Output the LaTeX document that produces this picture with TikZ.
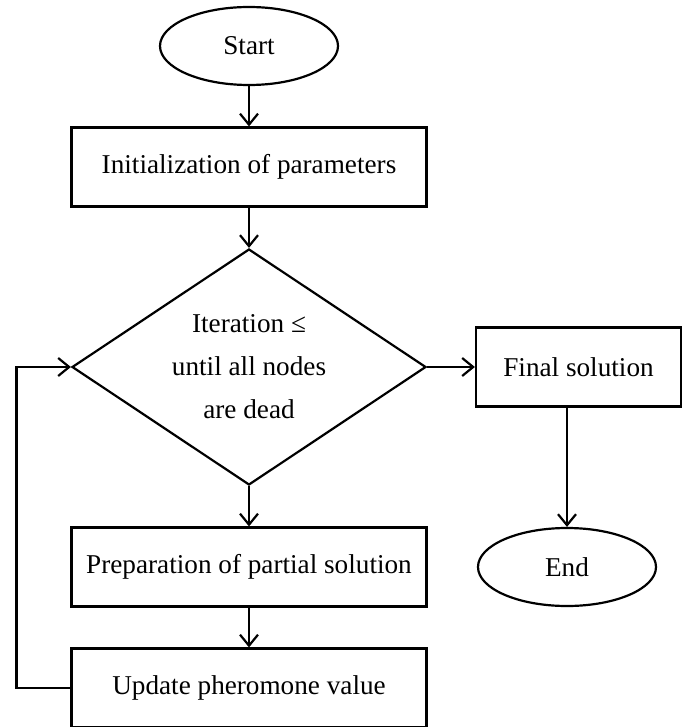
\documentclass[tikz,border=0pt]{standalone}
\usepackage{fontspec}
\setmainfont{Liberation Serif}
\usetikzlibrary{positioning,arrows.meta,shapes.geometric}

\begin{document}
\begin{tikzpicture}[
    x=0.5pt, y=-0.5pt,
    line width=1.1pt,
    font=\fontsize{13.6}{21.5}\selectfont,
    box/.style={
        draw,
        minimum width=177.5pt,
        minimum height=39.5pt,
        inner sep=0pt,
        align=center
    },
    term/.style={
        draw,
        ellipse,
        minimum width=89pt,
        minimum height=39pt,
        inner sep=0pt
    },
    decision/.style={
        draw,
        diamond,
        aspect=1.5,
        minimum width=177pt,
        minimum height=118pt,
        inner sep=0pt,
        align=center
    },
    arr/.style={
        -{Straight Barb[length=5.5pt,width=9pt]}
    }
]

\useasboundingbox (0,0) rectangle (683,727);

% ============================================================
% Main column
% ============================================================

\node[term] (start) at (249,46)
{Start};

\node[box] (init) at (249,167)
{Initialization of parameters};

\node[decision] (iter) at (249,367)
{Iteration ≤\\until all nodes\\are dead};

\node[box] (prep) at (249,567)
{Preparation of partial solution};

\node[box] (update) at (249,688)
{Update pheromone value};

\draw[arr] (start) -- (init);
\draw[arr] (init) -- (iter);
\draw[arr] (iter) -- (prep);
\draw[arr] (prep) -- (update);

% loop back
\draw[arr] (update.west) -- ++(-54,0) |- (iter.west);


% ============================================================
% Exit
% ============================================================

\node[box, minimum width=102.5pt] (final) at (578.5,367)
{Final solution};

\node[term] (stop) at (567,567)
{End};

\draw[arr] (iter) -- (final);
\draw[arr] (final.south -| stop.north) -- (stop.north);

\end{tikzpicture}
\end{document}
